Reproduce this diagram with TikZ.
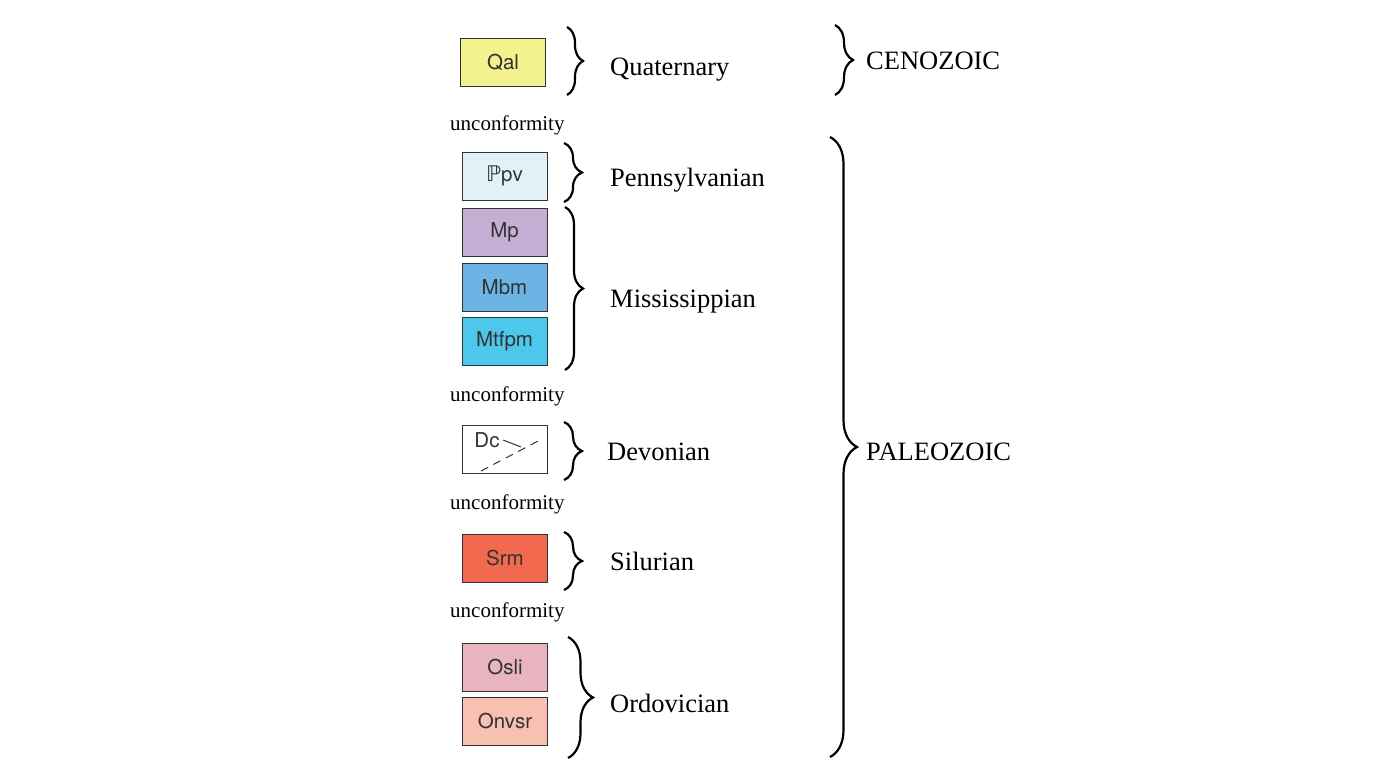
\documentclass[tikz,border=0pt]{standalone}
\usepackage{fontspec}
\setmainfont{Liberation Serif}
\newfontfamily\boxfont{TeX Gyre Heros}
\newfontfamily\dejavu{DejaVu Sans}
\usetikzlibrary{decorations.pathreplacing}
\definecolor{cQal}{HTML}{F4F28C}
\definecolor{cPpv}{HTML}{E0F1F8}
\definecolor{cMp}{HTML}{C5AED4}
\definecolor{cMbm}{HTML}{6CB4E4}
\definecolor{cMtfpm}{HTML}{4DC8EC}
\definecolor{cSrm}{HTML}{F26950}
\definecolor{cOsli}{HTML}{E8B4C2}
\definecolor{cOnvsr}{HTML}{F8C0B0}
\begin{document}
\begin{tikzpicture}[x=1pt,y=-1pt,
  unit/.style={draw=black!80, line width=0.9pt, minimum width=85pt, minimum height=48pt, inner sep=0pt, font=\boxfont\fontsize{20.5}{20.5}\selectfont, text=black!80},
  per/.style={anchor=base west, font=\fontsize{26.5}{26.5}\selectfont, inner sep=0pt},
  unc/.style={anchor=base west, font=\fontsize{21}{21}\selectfont, inner sep=0pt},
  br/.style={decorate, line width=2.2pt, decoration={brace, amplitude=#1}}]
\useasboundingbox (0,0) rectangle (1384,768);
% units
\node[unit, fill=cQal] (qal) at (503,62) {Qal};
\node[unit, fill=cPpv] (ppv) at (504.5,176) {{\dejavu\fontsize{21.5}{21.5}\selectfont ℙ}pv};
\node[unit, fill=cMp] (mp) at (504.5,232.5) {Mp};
\node[unit, fill=cMbm] (mbm) at (504.5,287) {Mbm};
\node[unit, fill=cMtfpm] (mtfpm) at (504.5,341.5) {Mtfpm};
\node[unit, fill=white] (dc) at (505,449.5) {};
\node[font=\boxfont\fontsize{20.5}{20.5}\selectfont, text=black!80, inner sep=0pt] (dctext) at (487,440) {Dc};
\draw[black!80, line width=1pt] (503,440) -- (521,447);
\draw[black!80, line width=1pt, dash pattern=on 8pt off 6pt] (481,471) -- (540,440);
\node[unit, fill=cSrm] (srm) at (505,558.5) {Srm};
\node[unit, fill=cOsli] (osli) at (505,667) {Osli};
\node[unit, fill=cOnvsr] (onvsr) at (505,721.5) {Onvsr};
% unconformities
\node[unc] (u1) at (450,130) {unconformity};
\node[unc] (u2) at (450,401) {unconformity};
\node[unc] (u3) at (450,509) {unconformity};
\node[unc] (u4) at (450,617) {unconformity};
% period braces
\draw[br=16pt] (567,27) -- (567,95);
\draw[br=18pt] (564,143) -- (564,202);
\draw[br=18pt] (565,207) -- (565,370);
\draw[br=18pt] (564,422) -- (564,480);
\draw[br=18pt] (564,532) -- (564,590);
\draw[br=25pt] (568,637) -- (568,758);
% period labels
\node[per] (quat) at (610,75) {Quaternary};
\node[per] (penn) at (610,186) {Pennsylvanian};
\node[per] (miss) at (610,307) {Mississippian};
\node[per] (dev) at (607,460) {Devonian};
\node[per] (sil) at (610,570) {Silurian};
\node[per] (ord) at (610,712) {Ordovician};
% era braces
\draw[br=18pt] (835,25) -- (835,95);
\draw[br=27pt] (830,137) -- (830,757);
\node[per] (ceno) at (866,70) {CENOZOIC};
\node[per] (paleo) at (866,460) {PALEOZOIC};
\end{tikzpicture}
\end{document}
